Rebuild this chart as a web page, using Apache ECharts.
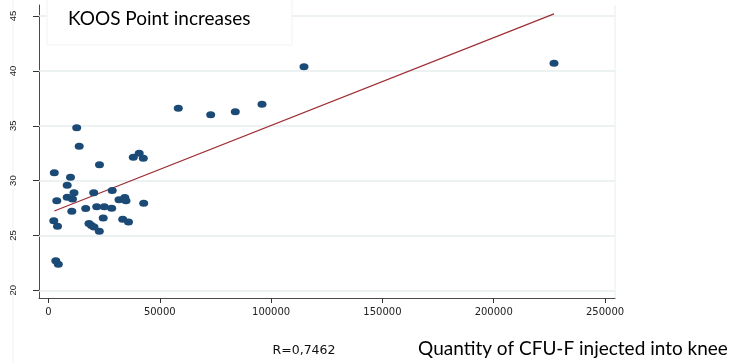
<!DOCTYPE html>
<html>
<head>
<meta charset="utf-8">
<script src="https://cdn.jsdelivr.net/npm/echarts@6/dist/echarts.min.js"></script>
<style>html,body{margin:0;padding:0;background:#fff}#c{width:732px;height:363px}</style>
</head>
<body>
<div id="c"></div>
<script>
// CFU-F quantity (x) vs KOOS point increase (y)
var cfuValues = [2605, 12667, 13790, 22909, 9882, 8400, 3728, 8400, 11455, 10781, 10466, 2381, 4043, 3279, 4402,
  16710, 20304, 21651, 25065, 28389, 28614, 24571, 18193, 19316, 20439, 22820, 31669, 34274, 34813, 33331, 35936,
  38092, 40742, 42584, 42764, 58306, 72860, 83911, 95904, 114771, 227077];
var koosValues = [30.72, 34.82, 33.13, 31.45, 30.30, 29.58, 28.17, 28.48, 28.90, 28.32, 27.21, 26.34, 25.83, 22.69, 22.38,
  27.47, 28.90, 27.62, 27.62, 27.48, 29.10, 26.59, 26.09, 25.91, 25.77, 25.39, 28.25, 28.46, 28.17, 26.48, 26.23,
  32.12, 32.49, 32.03, 27.94, 36.59, 36.01, 36.28, 36.96, 40.38, 40.69];
// fitted line endpoints
var fitX = [2605, 227077];
var fitY = [27.23, 45.21];
var xTicks = [0, 50000, 100000, 150000, 200000, 250000];
var yTicks = [20, 25, 30, 35, 40, 45];
var titleText = 'KOOS Point increases';
var rText = 'R=0,7462';
var xTitle = 'Quantity of CFU-F injected into knee';

var points = cfuValues.map(function (v, i) { return [v, koosValues[i]]; });
var fitLine = fitX.map(function (v, i) { return [v, fitY[i]]; });

var chart = echarts.init(document.getElementById('c'), null, { renderer: 'canvas' });
chart.setOption({
  animation: false,
  backgroundColor: '#ffffff',
  grid: { left: 39, right: 117, top: 5, bottom: 65, containLabel: false },
  xAxis: {
    type: 'value', min: -4267, max: 254478,
    axisLine: { show: true, onZero: false, lineStyle: { color: '#4a4a4a', width: 1 } },
    axisTick: { show: true, length: 5, customValues: xTicks, lineStyle: { color: '#333' } },
    axisLabel: { customValues: xTicks, margin: 9, fontFamily: 'DejaVu Sans', fontSize: 10, color: '#222',
      formatter: function (v) { return String(v); } },
    splitLine: { show: false }
  },
  yAxis: {
    type: 'value', min: 19.3, max: 46.01,
    axisLine: { show: true, onZero: false, lineStyle: { color: '#4a4a4a', width: 1 } },
    axisTick: { show: true, length: 6, customValues: yTicks, lineStyle: { color: '#333' } },
    axisLabel: { customValues: yTicks, rotate: 90, margin: 21, fontFamily: 'Liberation Sans', fontSize: 9.5, color: '#222',
      formatter: function (v) { return String(v); } },
    splitLine: { show: false }
  },
  graphic: [
    { type: 'line', shape: { x1: 13, y1: 0, x2: 13, y2: 363 }, style: { stroke: '#eef3f3', lineWidth: 1 }, z: 0 },
    { type: 'line', shape: { x1: 615, y1: 5, x2: 615, y2: 298 }, style: { stroke: '#e8eeee', lineWidth: 1 }, z: 0 },
    { type: 'rect', shape: { x: 47, y: -2, width: 245, height: 47 }, style: { fill: '#ffffff', stroke: '#f1f5f5', lineWidth: 1 }, z: 10 },
    { type: 'text', x: 68, y: 19, z: 11, style: { text: titleText, fontFamily: 'Lato', fontSize: 19, fill: '#000', verticalAlign: 'middle' } },
    { type: 'text', x: 304, y: 351, z: 11, style: { text: rText, fontFamily: 'DejaVu Sans', fontSize: 12.5, fill: '#111', align: 'center', verticalAlign: 'middle' } },
    { type: 'text', x: 573, y: 349, z: 11, style: { text: xTitle, fontFamily: 'Lato', fontSize: 19, fill: '#000', align: 'center', verticalAlign: 'middle' } }
  ],
  series: [
    {
      type: 'line', data: [], silent: true, z: 1,
      markLine: {
        silent: true, symbol: 'none', animation: false, z: 1,
        label: { show: false },
        lineStyle: { color: '#e6eeee', width: 1.5, type: 'solid' },
        data: yTicks.map(function (t) { return { yAxis: t }; })
      }
    },
    {
      type: 'line', data: fitLine, showSymbol: false, symbol: 'none', z: 3,
      lineStyle: { color: '#9e2f35', width: 1.3 }
    },
    {
      type: 'scatter', data: points, z: 4,
      symbol: 'circle', symbolSize: [9, 7],
      itemStyle: { color: '#1c4a76', opacity: 1 }
    }
  ]
});
</script>
</body>
</html>
